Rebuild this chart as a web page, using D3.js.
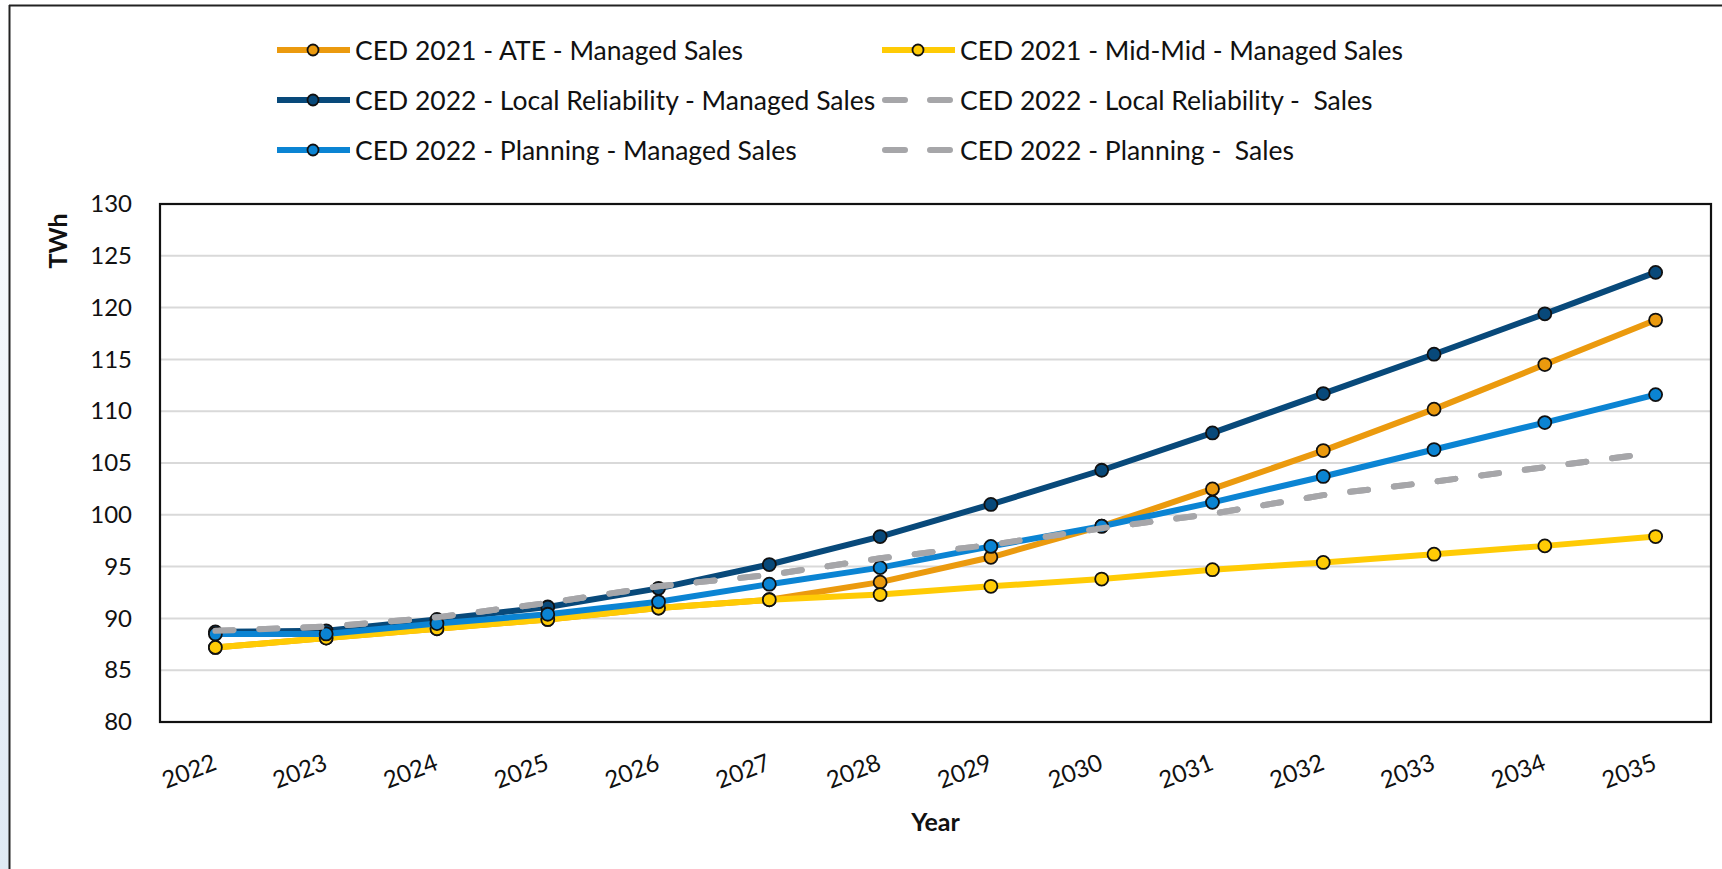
<!DOCTYPE html>
<html>
<head>
<meta charset="utf-8">
<script src="https://cdn.jsdelivr.net/npm/d3@7"></script>
<style>
  html, body { margin: 0; padding: 0; background: #ffffff; }
  svg { display: block; font-family: "Lato", "Liberation Sans", sans-serif; }
</style>
</head>
<body>
<svg id="chart" width="1722" height="869"></svg>
<script>
// ---------- data ----------
const years = ["2022","2023","2024","2025","2026","2027","2028","2029","2030","2031","2032","2033","2034","2035"];
const yTicks = [80, 85, 90, 95, 100, 105, 110, 115, 120, 125, 130];

const ced2021ATE      = [87.2, 88.1, 89.0, 89.9, 91.0, 91.8, 93.5, 95.9, 98.9, 102.5, 106.2, 110.2, 114.5, 118.8];
const ced2021MidMid   = [87.2, 88.1, 89.0, 89.9, 91.0, 91.8, 92.3, 93.1, 93.8, 94.7, 95.4, 96.2, 97.0, 97.9];
const ced2022LRManaged = [88.7, 88.8, 89.9, 91.1, 92.9, 95.2, 97.9, 101.0, 104.3, 107.9, 111.7, 115.5, 119.4, 123.4];
const ced2022LRSales   = [88.8, 89.2, 90.1, 91.5, 93.1, 94.2, 95.8, 97.1, 98.7, 100.1, 101.9, 103.2, 104.6, 106.0];
const ced2022PlanManaged = [88.5, 88.5, 89.5, 90.4, 91.6, 93.3, 94.9, 96.95, 98.9, 101.2, 103.7, 106.3, 108.9, 111.6];
const ced2022PlanSales   = [88.8, 89.2, 90.1, 91.5, 93.1, 94.2, 95.8, 97.1, 98.7, 100.1, 101.9, 103.2, 104.6, 106.0];

const seriesNames = [
  "CED 2021 - ATE - Managed Sales",
  "CED 2021 - Mid-Mid - Managed Sales",
  "CED 2022 - Local Reliability - Managed Sales",
  "CED 2022 - Local Reliability -  Sales",
  "CED 2022 - Planning - Managed Sales",
  "CED 2022 - Planning -  Sales"
];
const seriesValues = [ced2021ATE, ced2021MidMid, ced2022LRManaged, ced2022LRSales, ced2022PlanManaged, ced2022PlanSales];
const seriesColors = ["#EB9A0E", "#FFCB05", "#08497A", "#A6A6A9", "#0B84D3", "#A6A6A9"];
const seriesDashed = [false, false, false, true, false, true];
const seriesMarkers = [true, true, true, false, true, false];

const xTitle = "Year";
const yTitle = "TWh";

// ---------- layout ----------
const svg = d3.select("#chart");
const P = { left: 160, right: 1711, top: 204, bottom: 722 };

// frame & left tint
const defs = svg.append("defs");
const grad = defs.append("linearGradient").attr("id", "tint").attr("x1", 0).attr("y1", 0).attr("x2", 0).attr("y2", 1);
grad.append("stop").attr("offset", "0%").attr("stop-color", "#ffffff");
grad.append("stop").attr("offset", "100%").attr("stop-color", "#dfe9f4");
svg.append("rect").attr("x", 0).attr("y", 0).attr("width", 9).attr("height", 869).attr("fill", "url(#tint)");
svg.append("line").attr("x1", 9.5).attr("x2", 9.5).attr("y1", 5).attr("y2", 869).attr("stroke", "#222").attr("stroke-width", 2);
svg.append("line").attr("x1", 9).attr("x2", 1722).attr("y1", 5.5).attr("y2", 5.5).attr("stroke", "#222").attr("stroke-width", 2);

const x = d3.scalePoint().domain(years).range([P.left, P.right]).padding(0.5);
const y = d3.scaleLinear().domain([80, 130]).range([P.bottom, P.top]);

// gridlines
svg.append("g").selectAll("line")
  .data(yTicks.filter(t => t > 80 && t < 130))
  .join("line")
  .attr("x1", P.left).attr("x2", P.right)
  .attr("y1", d => y(d)).attr("y2", d => y(d))
  .attr("stroke", "#d9d9d9").attr("stroke-width", 2);

// y axis
const yAxis = svg.append("g").attr("transform", `translate(${P.left},0)`)
  .call(d3.axisLeft(y).tickValues(yTicks).tickSize(0).tickPadding(28));
yAxis.select(".domain").remove();
yAxis.selectAll("text").attr("font-size", 24).attr("font-family", "Lato").attr("fill", "#111");

// x axis
const xAxis = svg.append("g").attr("transform", `translate(0,${P.bottom})`)
  .call(d3.axisBottom(x).tickSize(0));
xAxis.select(".domain").remove();
xAxis.selectAll("text")
  .attr("font-size", 24).attr("font-family", "Lato").attr("fill", "#111")
  .attr("text-anchor", "end").attr("x", 0).attr("y", 0).attr("dy", 0)
  .attr("transform", "translate(2,47) rotate(-21)");

// series
const line = d3.line().x((d, i) => x(years[i])).y(d => y(d));
seriesValues.forEach((vals, s) => {
  const g = svg.append("g");
  g.append("path").datum(vals)
    .attr("d", line)
    .attr("fill", "none")
    .attr("stroke", seriesColors[s])
    .attr("stroke-width", 6)
    .attr("stroke-linejoin", "round")
    .attr("stroke-linecap", seriesDashed[s] ? "round" : "butt")
    .attr("stroke-dasharray", seriesDashed[s] ? "18,26" : null);
  if (seriesMarkers[s]) {
    g.selectAll("circle").data(vals).join("circle")
      .attr("cx", (d, i) => x(years[i])).attr("cy", d => y(d))
      .attr("r", 6.5).attr("fill", seriesColors[s])
      .attr("stroke", "#111").attr("stroke-width", 1.8);
  }
});

// plot border
svg.append("rect")
  .attr("x", P.left).attr("y", P.top)
  .attr("width", P.right - P.left).attr("height", P.bottom - P.top)
  .attr("fill", "none").attr("stroke", "#111").attr("stroke-width", 2.2);

// axis titles
svg.append("text").text(yTitle)
  .attr("transform", `translate(57,241) rotate(-90)`)
  .attr("text-anchor", "middle").attr("dominant-baseline", "central")
  .attr("font-size", 25).attr("font-weight", "bold").attr("fill", "#111");
svg.append("text").text(xTitle)
  .attr("x", (P.left + P.right) / 2).attr("y", 821)
  .attr("text-anchor", "middle").attr("dominant-baseline", "central")
  .attr("font-size", 25).attr("font-weight", "bold").attr("fill", "#111");

// legend (row-wise, 2 columns)
const legCols = [277, 882];
const legRows = [50, 100, 150];
seriesNames.forEach((name, s) => {
  const cx = legCols[s % 2], cy = legRows[Math.floor(s / 2)];
  const g = svg.append("g").attr("transform", `translate(${cx},${cy})`);
  if (seriesDashed[s]) {
    g.append("line").attr("x1", 3).attr("x2", 71).attr("y1", 0).attr("y2", 0)
      .attr("stroke", seriesColors[s]).attr("stroke-width", 6)
      .attr("stroke-linecap", "round").attr("stroke-dasharray", "20,25");
  } else {
    g.append("line").attr("x1", 0).attr("x2", 73).attr("y1", 0).attr("y2", 0)
      .attr("stroke", seriesColors[s]).attr("stroke-width", 6);
    g.append("circle").attr("cx", 36).attr("cy", 0).attr("r", 5.5)
      .attr("fill", seriesColors[s]).attr("stroke", "#111").attr("stroke-width", 1.8);
  }
  g.append("text").text(name)
    .attr("x", 78).attr("y", 0)
    .attr("dominant-baseline", "central")
    .attr("font-size", 26.5).attr("fill", "#111")
    .style("white-space", "pre");
});
</script>
</body>
</html>
